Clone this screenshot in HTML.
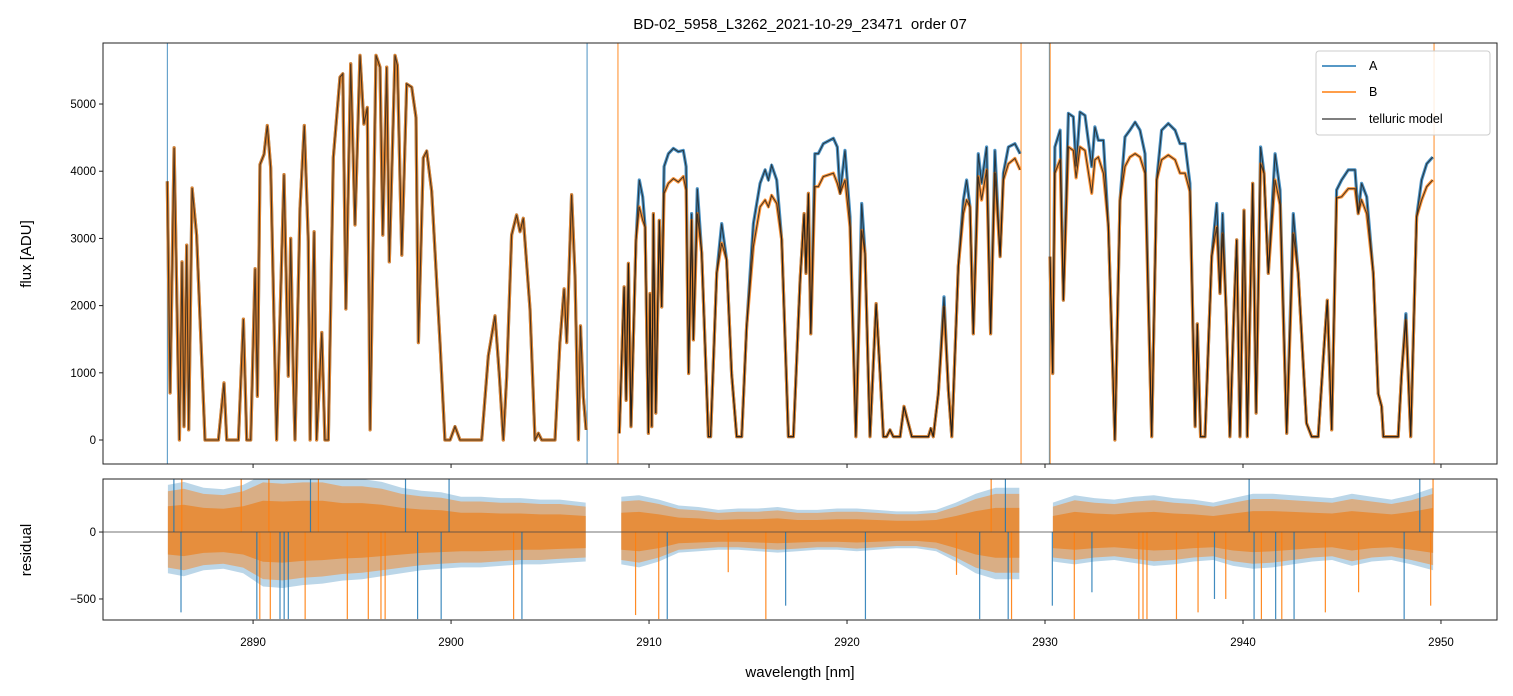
<!DOCTYPE html>
<html><head><meta charset="utf-8">
<style>
body{margin:0;background:#fff;}
svg{display:block;font-family:"Liberation Sans","DejaVu Sans",sans-serif;}
</style></head>
<body>
<svg id="chart" width="1513" height="696" viewBox="0 0 1513 696" xmlns="http://www.w3.org/2000/svg">
<defs>
<clipPath id="clipTop"><rect x="103" y="43" width="1394" height="421"/></clipPath>
<clipPath id="clipRes"><rect x="103" y="479" width="1394" height="141"/></clipPath>
</defs>
<rect x="0" y="0" width="1513" height="696" fill="#fff"/>
<text x="800" y="29" text-anchor="middle" font-size="15" fill="#000" style="white-space:pre">BD-02_5958_L3262_2021-10-29_23471  order 07</text>
<g id="topPlot" clip-path="url(#clipTop)"></g>
<g id="resPlot" clip-path="url(#clipRes)"></g>
<g id="axesG"></g>
<text x="800" y="677" text-anchor="middle" font-size="15" fill="#000">wavelength [nm]</text>
<text transform="translate(31,254) rotate(-90)" text-anchor="middle" font-size="15" fill="#000">flux [ADU]</text>
<text transform="translate(31,550) rotate(-90)" text-anchor="middle" font-size="15" fill="#000">residual</text>
<g>
<rect x="1316" y="51" width="174" height="84" rx="3" fill="#fff" fill-opacity="0.85" stroke="#ccc"/>
<line x1="1322" y1="66" x2="1356" y2="66" stroke="#1f77b4" stroke-width="1.6"/>
<text x="1369" y="70" font-size="12.5">A</text>
<line x1="1322" y1="92" x2="1356" y2="92" stroke="#ff7f0e" stroke-width="1.6"/>
<text x="1369" y="96" font-size="12.5">B</text>
<line x1="1322" y1="119" x2="1356" y2="119" stroke="#555" stroke-width="1.6"/>
<text x="1369" y="123" font-size="12.5">telluric model</text>
</g>
</svg>
<script>
// ---- data ----
const seg1Wl=[2885.67,2885.81,2886.01,2886.28,2886.41,2886.51,2886.65,2886.75,2886.92,2887.15,2887.57,2888.25,2888.53,2888.67,2889.26,2889.51,2889.68,2889.88,2890.10,2890.22,2890.35,2890.55,2890.72,2890.89,2891.19,2891.56,2891.78,2891.90,2892.03,2892.12,2892.37,2892.59,2892.79,2892.88,2893.08,2893.21,2893.47,2893.63,2893.80,2894.05,2894.39,2894.53,2894.69,2894.93,2895.15,2895.40,2895.60,2895.77,2895.91,2896.21,2896.41,2896.55,2896.75,2896.88,2897.17,2897.29,2897.51,2897.76,2898.01,2898.23,2898.35,2898.60,2898.77,2899.02,2899.44,2899.69,2899.95,2900.20,2900.45,2901.55,2901.88,2902.22,2902.44,2902.64,2902.81,2903.06,2903.31,2903.48,2903.65,2903.99,2904.24,2904.41,2904.58,2905.25,2905.50,2905.71,2905.84,2906.09,2906.26,2906.43,2906.54,2906.68,2906.82];
const seg1Flux=[3850,700,4350,0,2650,200,2900,150,3750,3050,0,0,850,0,0,1800,0,0,2550,650,4100,4250,4680,4050,0,3950,950,3000,950,0,3450,4680,2950,0,3100,0,1600,0,0,4200,5400,5450,1950,5600,3200,5725,4700,4950,150,5725,5550,3050,5550,2650,5725,5575,2750,5300,5250,4800,1450,4200,4300,3700,1450,0,0,200,0,0,1250,1850,950,0,950,3050,3350,3100,3300,1950,0,100,0,0,1450,2250,1450,3650,2450,0,1700,650,150];
const seg2Wl=[2908.50,2908.74,2908.84,2908.96,2909.09,2909.34,2909.51,2909.68,2909.80,2909.97,2910.05,2910.14,2910.22,2910.34,2910.52,2910.64,2910.76,2910.98,2911.23,2911.48,2911.73,2911.87,2912.00,2912.15,2912.24,2912.44,2912.66,2913.00,2913.11,2913.42,2913.67,2913.92,2914.17,2914.43,2914.68,2914.93,2915.27,2915.61,2915.86,2916.03,2916.19,2916.45,2916.70,2917.04,2917.29,2917.63,2917.83,2917.93,2918.05,2918.17,2918.38,2918.55,2918.80,2919.31,2919.51,2919.65,2919.90,2920.15,2920.45,2920.74,2920.91,2921.16,2921.47,2921.67,2921.84,2922.00,2922.17,2922.34,2922.68,2922.88,2923.05,2923.27,2924.11,2924.23,2924.36,2924.61,2924.90,2925.12,2925.29,2925.62,2925.88,2926.04,2926.21,2926.38,2926.63,2926.80,2927.05,2927.25,2927.47,2927.73,2927.90,2928.15,2928.48,2928.74];
const seg2FluxA=[100,2280,590,2630,200,2980,3870,3620,3170,100,2180,200,3370,400,3270,1980,4070,4260,4340,4290,4310,4070,990,3370,1490,3740,2780,50,50,2480,3220,2680,990,50,50,1680,3220,3820,4020,3870,4090,3870,2980,50,50,2380,3370,2480,3670,1580,4260,4260,4410,4490,4360,3670,4310,3320,50,3520,2780,50,2030,990,50,50,150,50,50,500,300,50,50,170,50,690,2130,740,50,2580,3570,3870,3470,1580,4260,3820,4360,1580,4310,2730,3970,4360,4410,4260];
const seg2FluxB=[100,2280,590,2630,200,2980,3470,3270,3170,100,2180,200,3370,400,3270,1980,3670,3820,3890,3840,3920,3720,990,3270,1490,3370,2780,50,50,2480,2930,2680,990,50,50,1680,2880,3470,3570,3470,3640,3520,2980,50,50,2380,3370,2480,3670,1580,3770,3770,3920,3970,3820,3670,3870,3170,50,3120,2780,50,2030,990,50,50,150,50,50,500,300,50,50,170,50,690,1980,740,50,2580,3370,3570,3470,1580,3920,3570,4020,1580,3970,2730,3870,4110,4190,4020];
const seg3Wl=[2930.25,2930.39,2930.50,2930.76,2930.93,2931.18,2931.43,2931.57,2931.77,2932.02,2932.36,2932.52,2932.69,2932.95,2933.20,2933.53,2933.79,2934.04,2934.29,2934.55,2934.80,2935.05,2935.39,2935.64,2935.89,2936.23,2936.57,2936.82,2937.07,2937.32,2937.58,2937.69,2937.86,2938.08,2938.42,2938.67,2938.84,2938.97,2939.14,2939.34,2939.54,2939.68,2939.85,2940.05,2940.22,2940.49,2940.66,2940.89,2941.06,2941.28,2941.62,2941.87,2942.21,2942.54,2942.79,2943.21,2943.47,2943.80,2944.06,2944.26,2944.48,2944.73,2944.98,2945.32,2945.66,2945.82,2945.99,2946.25,2946.58,2946.83,2947.00,2947.09,2947.84,2948.01,2948.23,2948.47,2948.77,2949.02,2949.28,2949.58];
const seg3FluxA=[2730,990,4360,4610,2080,4860,4810,4070,4880,4830,4070,4660,4460,4460,3170,0,3570,4510,4610,4730,4610,4260,50,3870,4610,4710,4610,4410,4410,3820,200,1730,50,50,2730,3520,2180,3370,1980,50,1880,2980,50,3420,50,3820,400,4360,3970,2480,4260,3720,100,3370,2480,250,50,50,1240,2080,150,3720,3870,4020,4020,3370,3820,3620,2480,690,500,50,50,990,1880,50,3320,3870,4110,4210];
const seg3FluxB=[2730,990,3970,4170,2080,4360,4310,3900,4360,4310,3670,4170,4210,3970,3170,0,3570,4070,4210,4260,4210,3970,50,3870,4170,4240,4170,3970,3970,3700,200,1730,50,50,2730,3170,2180,3070,1980,50,1880,2980,50,3420,50,3820,400,4110,3970,2480,3870,3500,100,3070,2480,250,50,50,1240,2080,150,3600,3620,3740,3740,3370,3570,3370,2480,690,500,50,50,990,1780,50,3320,3570,3770,3870];
const edgeWlA=[2885.67,2906.87,2930.22];
const edgeWlB=[2908.43,2928.79,2930.26,2949.65];

const resWl1=[2885.7,2886.5,2887.5,2888.5,2889.5,2890.5,2891.5,2892.5,2893.5,2894.5,2895.5,2896.5,2897.5,2898.5,2899.5,2900.5,2901.5,2902.5,2903.5,2904.5,2905.5,2906.8];
const resUp1=[320,340,300,290,320,390,380,390,390,360,360,340,300,280,270,240,240,230,230,220,220,200];
const resLo1=[-280,-300,-260,-250,-280,-370,-380,-360,-350,-330,-320,-300,-280,-260,-250,-240,-240,-230,-220,-220,-210,-200];
const resWl2=[2908.6,2909.5,2910.5,2911.5,2912.5,2913.5,2914.5,2915.5,2916.5,2917.5,2918.5,2919.5,2920.5,2921.5,2922.5,2923.5,2924.5,2925.5,2926.5,2927.5,2928.7];
const resUp2=[240,250,220,180,170,150,160,160,170,150,150,160,160,150,140,140,150,200,260,300,300];
const resLo2=[-220,-240,-200,-140,-130,-120,-120,-130,-140,-130,-120,-120,-130,-120,-110,-110,-130,-200,-280,-320,-320];
const resWl3=[2930.4,2931.5,2932.5,2933.5,2934.5,2935.5,2936.5,2937.5,2938.5,2939.5,2940.5,2941.5,2942.5,2943.5,2944.5,2945.5,2946.5,2947.5,2948.5,2949.6];
const resUp3=[200,250,230,220,240,250,230,220,200,230,260,260,250,240,230,260,240,220,250,300];
const resLo3=[-200,-220,-200,-190,-210,-230,-220,-200,-190,-230,-250,-240,-220,-200,-190,-230,-200,-190,-220,-260];
const spikeWlA=[2886.36,2890.19,2891.36,2891.57,2891.78,2898.31,2899.50,2903.58,2910.92,2916.9,2920.93,2926.70,2928.14,2930.37,2932.37,2938.56,2940.31,2940.56,2941.65,2942.58,2948.14,2948.93,2886.0,2892.9,2897.7,2899.9,2928.0];
const spikeValA=[-600,-650,-650,-650,-650,-650,-650,-650,-650,-550,-650,-650,-650,-550,-450,-500,400,-650,-650,-650,-650,400,400,400,400,400,400];
const spikeWlB=[2890.34,2890.87,2892.63,2894.76,2895.82,2896.46,2896.67,2903.16,2909.32,2910.49,2914.0,2915.9,2925.53,2927.28,2928.31,2931.48,2934.74,2934.95,2935.15,2936.64,2937.73,2939.13,2940.93,2941.96,2944.16,2945.84,2949.48,2886.4,2889.4,2890.8,2893.3,2949.6];
const spikeValB=[-650,-650,-650,-650,-650,-650,-650,-650,-620,-650,-300,-650,-320,400,-650,-650,-650,-650,-650,-650,-600,-500,-650,-650,-600,-450,-550,400,400,400,400,400];
const xTicks=[2890,2900,2910,2920,2930,2940,2950];
const fluxTicks=[0,1000,2000,3000,4000,5000];
const resTicks=[0,-500];

// ---- scales ----
const X0=103,X1=1497;
const xDom=[2882.42,2952.83];
const xs=v=>X0+(v-xDom[0])/(xDom[1]-xDom[0])*(X1-X0);
const yTopDom=[-357,5908]; const yT=v=>464-(v-yTopDom[0])/(yTopDom[1]-yTopDom[0])*(464-43);
const yResDom=[-657,396]; const yR=v=>620-(v-yResDom[0])/(yResDom[1]-yResDom[0])*(620-479);
const NS="http://www.w3.org/2000/svg";
function mk(tag,attrs,parent){const e=document.createElementNS(NS,tag);for(const k in attrs)e.setAttribute(k,attrs[k]);parent.appendChild(e);return e;}
function pathOf(wl,vals,ys){let d="";const n=Math.min(wl.length,vals.length);for(let i=0;i<n;i++){d+=(i?"L":"M")+xs(wl[i]).toFixed(1)+","+ys(vals[i]).toFixed(1);}return d;}

const topG=document.getElementById('topPlot');
const resG=document.getElementById('resPlot');
const axesG=document.getElementById('axesG');

edgeWlA.forEach(w=>{const l=mk('line',{x1:xs(w),x2:xs(w),y1:43,y2:464,stroke:'#1f77b4','stroke-width':1,opacity:0.8},topG);

});
edgeWlB.forEach(w=>{const l=mk('line',{x1:xs(w),x2:xs(w),y1:43,y2:464,stroke:'#ff7f0e','stroke-width':1,opacity:0.9},topG);

});

const segs=[[seg1Wl,seg1Flux,seg1Flux],[seg2Wl,seg2FluxA,seg2FluxB],[seg3Wl,seg3FluxA,seg3FluxB]];
segs.forEach(s=>{
  const a=mk('path',{d:pathOf(s[0],s[1],yT),fill:'none',stroke:'#1f77b4','stroke-width':3.2,'stroke-linejoin':'round',opacity:0.8},topG);
  
  
});
segs.forEach(s=>{
  const b=mk('path',{d:pathOf(s[0],s[2],yT),fill:'none',stroke:'#ff7f0e','stroke-width':3.2,'stroke-linejoin':'round',opacity:0.8},topG);
  
  
});
segs.forEach((s,i)=>{
  const m=mk('path',{d:pathOf(s[0],s[1],yT),fill:'none',stroke:'#1a1a1a','stroke-width':1.1,opacity:0.75},topG);
  
  
  if(i>0){const m2=mk('path',{d:pathOf(s[0],s[2],yT),fill:'none',stroke:'#1a1a1a','stroke-width':1.1,opacity:0.75},topG);
  
  }
});

const bands=[[resWl1,resUp1,resLo1],[resWl2,resUp2,resLo2],[resWl3,resUp3,resLo3]];
function bandPath(wl,up,lo,f){let d="";for(let i=0;i<wl.length;i++)d+=(i?"L":"M")+xs(wl[i]).toFixed(1)+","+yR(up[i]*f).toFixed(1);for(let i=wl.length-1;i>=0;i--)d+="L"+xs(wl[i]).toFixed(1)+","+yR(lo[i]*f).toFixed(1);return d+"Z";}
bands.forEach(b=>{
  const p=mk('path',{d:bandPath(b[0],b[1],b[2],1.1),fill:'#1f77b4',opacity:0.3},resG);
  
  
  const q=mk('path',{d:bandPath(b[0],b[1],b[2],0.95),fill:'#ff7f0e',opacity:0.45},resG);
  
  
  const r=mk('path',{d:bandPath(b[0],b[1],b[2],0.6),fill:'#e8862a',opacity:0.8},resG);
  
  
});
spikeWlA.forEach((w,i)=>{const l=mk('line',{x1:xs(w),x2:xs(w),y1:yR(0),y2:yR(spikeValA[i]),stroke:'#1f77b4','stroke-width':1.2,opacity:0.85},resG);

});
spikeWlB.forEach((w,i)=>{const l=mk('line',{x1:xs(w),x2:xs(w),y1:yR(0),y2:yR(spikeValB[i]),stroke:'#ff7f0e','stroke-width':1.2,opacity:0.9},resG);

});
const zl=mk('line',{x1:103,x2:1497,y1:yR(0),y2:yR(0),stroke:'#444','stroke-width':0.7},resG);



[[43,464],[479,620]].forEach(r=>{const f=mk('rect',{x:103,y:r[0],width:1394,height:r[1]-r[0],fill:'none',stroke:'#222','stroke-width':1},axesG);

});
xTicks.forEach(t=>{const x=xs(t);
  [464,620].forEach(yb=>{const l=mk('line',{x1:x,x2:x,y1:yb,y2:yb+4,stroke:'#222'},axesG);
  
  });
  const tx=mk('text',{x:x,y:646,'text-anchor':'middle','font-size':11.5,fill:'#000'},axesG);tx.textContent=t;
  
  
});
fluxTicks.forEach(t=>{const y=yT(t);
  const l=mk('line',{x1:99,x2:103,y1:y,y2:y,stroke:'#222'},axesG);
  
  
  const tx=mk('text',{x:96,y:y+4,'text-anchor':'end','font-size':11.5,fill:'#000'},axesG);tx.textContent=t;
  
  
});
resTicks.forEach(t=>{const y=yR(t);
  const l=mk('line',{x1:99,x2:103,y1:y,y2:y,stroke:'#222'},axesG);
  
  
  const tx=mk('text',{x:96,y:y+4,'text-anchor':'end','font-size':11.5,fill:'#000'},axesG);tx.textContent=(t<0?'\u2212'+(-t):t);
  
  
});
</script>
</body></html>
